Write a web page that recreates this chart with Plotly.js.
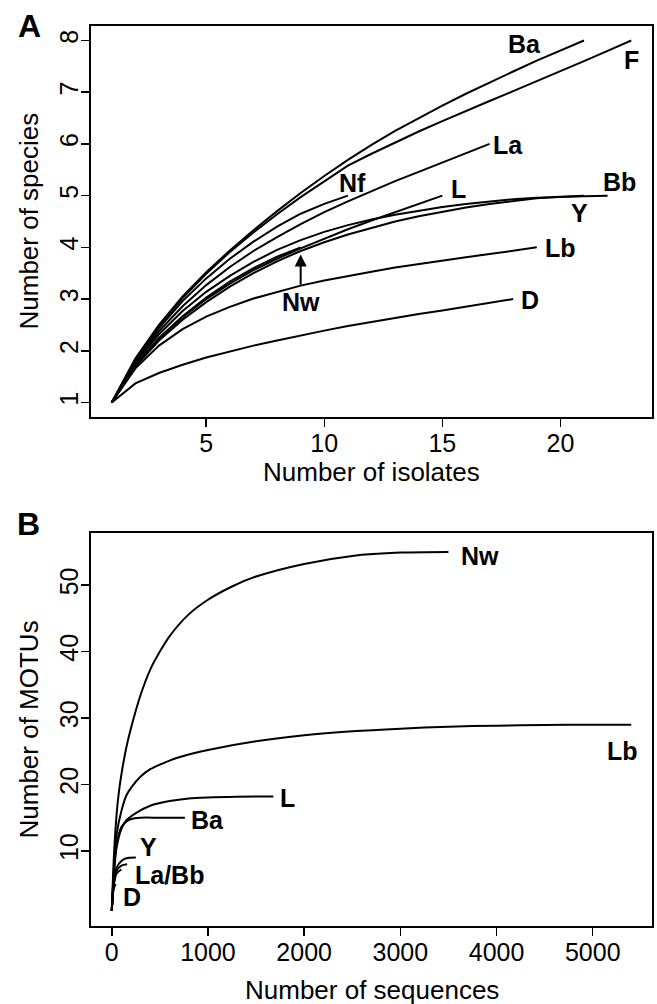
<!DOCTYPE html>
<html>
<head>
<meta charset="utf-8">
<script src="https://cdn.plot.ly/plotly-3.0.1.min.js"></script>
<style>html,body{margin:0;padding:0;background:#fff;}#chart{width:657px;height:1004px;}</style>
</head>
<body>
<div id="chart"></div>
<script>
// ---------- Panel A: species vs isolates (values at isolates = 1..n) ----------
const speciesBa = [1, 1.85, 2.5, 3.05, 3.52, 3.94, 4.33, 4.7, 5.05, 5.38, 5.69, 5.98, 6.25, 6.5, 6.74, 6.97, 7.19, 7.4, 7.61, 7.81, 8.0];
const speciesF  = [1, 1.84, 2.48, 3.02, 3.49, 3.91, 4.29, 4.64, 4.97, 5.28, 5.58, 5.81, 6.03, 6.24, 6.44, 6.64, 6.83, 7.02, 7.21, 7.4, 7.6, 7.8, 8.0];
const speciesNf = [1, 1.8, 2.44, 2.96, 3.4, 3.78, 4.11, 4.4, 4.65, 4.84, 5.0];
const speciesLa = [1, 1.78, 2.38, 2.86, 3.27, 3.62, 3.93, 4.2, 4.45, 4.68, 4.89, 5.09, 5.28, 5.46, 5.64, 5.82, 6.0];
const speciesL  = [1, 1.72, 2.24, 2.65, 3.0, 3.3, 3.56, 3.78, 3.98, 4.17, 4.35, 4.52, 4.68, 4.84, 5.0];
const speciesBb = [1, 1.76, 2.32, 2.77, 3.14, 3.45, 3.72, 3.95, 4.14, 4.3, 4.43, 4.54, 4.63, 4.71, 4.78, 4.84, 4.89, 4.93, 4.96, 4.98, 4.99, 5.0];
const speciesY  = [1, 1.7, 2.2, 2.6, 2.94, 3.24, 3.5, 3.73, 3.93, 4.1, 4.25, 4.38, 4.5, 4.6, 4.69, 4.77, 4.84, 4.9, 4.95, 4.98, 5.0];
const speciesNw = [1, 1.72, 2.25, 2.67, 3.03, 3.34, 3.6, 3.82, 4.0];
const speciesLb = [1, 1.66, 2.1, 2.42, 2.66, 2.85, 3.01, 3.14, 3.26, 3.36, 3.45, 3.53, 3.61, 3.68, 3.75, 3.81, 3.87, 3.94, 4.0];
const speciesD  = [1, 1.37, 1.57, 1.73, 1.87, 1.99, 2.1, 2.2, 2.3, 2.39, 2.48, 2.56, 2.64, 2.71, 2.78, 2.85, 2.92, 3.0];

// ---------- Panel B: MOTUs vs sequences ----------
const seqNw  = [0, 10, 25, 50, 75, 100, 150, 200, 300, 400, 500, 600, 800, 1000, 1250, 1500, 2000, 2500, 3000, 3500];
const motuNw = [1, 5, 10, 15.5, 19, 21.5, 25.5, 28.5, 33.5, 37.3, 40, 42.3, 45.6, 47.8, 49.8, 51.3, 53.2, 54.4, 54.9, 55];
const seqLb  = [0, 25, 50, 100, 150, 200, 300, 400, 500, 600, 700, 850, 1000, 1500, 2000, 2500, 3000, 3500, 4000, 4500, 5000, 5400];
const motuLb = [1, 8, 12.5, 16, 18.3, 19.5, 21.2, 22.3, 23.0, 23.6, 24.1, 24.7, 25.2, 26.5, 27.4, 28, 28.4, 28.7, 28.85, 28.95, 29, 29];
const seqL   = [0, 25, 50, 100, 150, 250, 400, 600, 800, 1000, 1300, 1680];
const motuL  = [1, 7, 10.5, 13.3, 14.6, 15.7, 16.8, 17.5, 17.9, 18.05, 18.15, 18.2];
const seqBa  = [0, 25, 50, 100, 150, 200, 300, 500, 760];
const motuBa = [1, 7.5, 11, 13.6, 14.4, 14.8, 15, 15, 15];
const seqY   = [0, 20, 50, 100, 150, 250];
const motuY  = [1, 5, 7.5, 8.5, 8.9, 9];
const seqLa  = [0, 20, 50, 100, 160];
const motuLa = [1, 5, 7, 7.8, 8];
const seqBb  = [0, 20, 50, 100];
const motuBb = [1, 4.8, 6.6, 7.2];
const seqD   = [0, 10, 20, 40];
const motuD  = [1, 3, 4.3, 5];

// tick labels
const ticksA_x = [5, 10, 15, 20];
const ticksA_y = [1, 2, 3, 4, 5, 6, 7, 8];
const ticksB_x = [0, 1000, 2000, 3000, 4000, 5000];
const ticksB_y = [10, 20, 30, 40, 50];

// curve label texts and their annotation anchors
const labelsA     = ['Ba', 'F', 'La', 'Nf', 'L', 'Bb', 'Y', 'Lb', 'D'];
const labelsA_pos = [[18.5, 7.93], [23.0, 7.62], [17.8, 5.97], [11.2, 5.25], [15.7, 5.12], [22.5, 5.27], [20.8, 4.66], [20.0, 3.98], [18.7, 2.98]];
const labelsB     = ['Nw', 'Lb', 'L', 'Ba', 'Y', 'La/Bb', 'D'];
const labelsB_pos = [[3830, 54.4], [5310, 25.0], [1830, 18.0], [990, 14.7], [380, 10.6], [600, 6.4], [210, 3.1]];

const BLACK = '#000';
const FONT = 'Liberation Sans, Arial, Helvetica, sans-serif';

function range1(n) { const r = []; for (let i = 1; i <= n; i++) r.push(i); return r; }
function lineA(v) { return {x: range1(v.length), y: v, xaxis: 'x', yaxis: 'y', mode: 'lines', line: {color: BLACK, width: 2}, hoverinfo: 'skip'}; }
function lineB(x, y) { return {x: x, y: y, xaxis: 'x2', yaxis: 'y2', mode: 'lines', line: {color: BLACK, width: 2, shape: 'spline', smoothing: 0.8}, hoverinfo: 'skip'}; }

const traces = [
  lineA(speciesBa), lineA(speciesF), lineA(speciesNf), lineA(speciesLa), lineA(speciesL),
  lineA(speciesBb), lineA(speciesY), lineA(speciesNw), lineA(speciesLb), lineA(speciesD),
  lineB(seqNw, motuNw), lineB(seqLb, motuLb), lineB(seqL, motuL), lineB(seqBa, motuBa),
  lineB(seqY, motuY), lineB(seqLa, motuLa), lineB(seqBb, motuBb), lineB(seqD, motuD)
];

const W = 657, H = 1004;
const xDom = [91 / W, 652 / W];
const yDomA = [1 - 417 / H, 1 - 26 / H];
const yDomB = [1 - 926 / H, 1 - 533 / H];

const axisCommon = {
  showline: true, mirror: true, linecolor: BLACK, linewidth: 2,
  ticks: 'outside', ticklen: 8, tickwidth: 1.5, tickcolor: BLACK,
  showgrid: false, zeroline: false, fixedrange: true,
  tickfont: {family: FONT, size: 25, color: BLACK}
};

const annotations = [];
const lf = {family: FONT, size: 25, color: BLACK, weight: 'bold'};
labelsA.forEach((t, i) => annotations.push({xref: 'x', yref: 'y', x: labelsA_pos[i][0], y: labelsA_pos[i][1], xanchor: 'center', yanchor: 'middle', text: t, showarrow: false, font: lf}));
labelsB.forEach((t, i) => annotations.push({xref: 'x2', yref: 'y2', x: labelsB_pos[i][0], y: labelsB_pos[i][1], xanchor: 'center', yanchor: 'middle', text: t, showarrow: false, font: lf}));
// Nw arrow in panel A
annotations.push({xref: 'x', yref: 'y', axref: 'x', ayref: 'y', x: 9, y: 3.86, ax: 9, ay: 3.25, text: '', showarrow: true, arrowhead: 2, arrowsize: 1.2, arrowwidth: 2, arrowcolor: BLACK});
annotations.push({xref: 'x', yref: 'y', x: 9, y: 2.95, xanchor: 'center', yanchor: 'middle', text: 'Nw', showarrow: false, font: lf});
// axis titles and panel letters
const tf = {family: FONT, size: 26, color: BLACK};
function paperNote(px, py, text, font, angle) {
  return {xref: 'paper', yref: 'paper', x: px / W, y: 1 - py / H, xanchor: 'center', yanchor: 'middle', text: text, textangle: angle || 0, showarrow: false, font: font};
}
annotations.push(paperNote((91 + 652) / 2, 472, 'Number of isolates', tf));
annotations.push(paperNote((91 + 652) / 2, 990, 'Number of sequences', tf));
annotations.push(paperNote(28, (26 + 417) / 2, 'Number of species', tf, -90));
annotations.push(paperNote(28, (533 + 926) / 2, 'Number of MOTUs', tf, -90));
annotations.push(paperNote(29, 26, 'A', {family: FONT, size: 32, color: BLACK, weight: 'bold'}));
annotations.push(paperNote(28, 524, 'B', {family: FONT, size: 32, color: BLACK, weight: 'bold'}));

const xStand = {ticklabelstandoff: -5};
const yStand = {ticklabelstandoff: -7};

const layout = {
  width: W, height: H,
  margin: {l: 0, r: 0, t: 0, b: 0},
  paper_bgcolor: '#fff', plot_bgcolor: '#fff',
  showlegend: false,
  xaxis: Object.assign({}, axisCommon, xStand, {domain: xDom, range: [0.12, 23.88], tickmode: 'array', tickvals: ticksA_x, ticktext: ticksA_x.map(String), anchor: 'y'}),
  yaxis: Object.assign({}, axisCommon, yStand, {domain: yDomA, range: [0.72, 8.28], tickmode: 'array', tickvals: ticksA_y, ticktext: ticksA_y.map(String), tickangle: -90, anchor: 'x'}),
  xaxis2: Object.assign({}, axisCommon, xStand, {domain: xDom, range: [-216, 5616], tickmode: 'array', tickvals: ticksB_x, ticktext: ticksB_x.map(String), anchor: 'y2'}),
  yaxis2: Object.assign({}, axisCommon, yStand, {domain: yDomB, range: [-1.3, 57.85], tickmode: 'array', tickvals: ticksB_y, ticktext: ticksB_y.map(String), tickangle: -90, anchor: 'x2'}),
  annotations: annotations
};

Plotly.newPlot('chart', traces, layout, {staticPlot: true, displayModeBar: false});
</script>
</body>
</html>
